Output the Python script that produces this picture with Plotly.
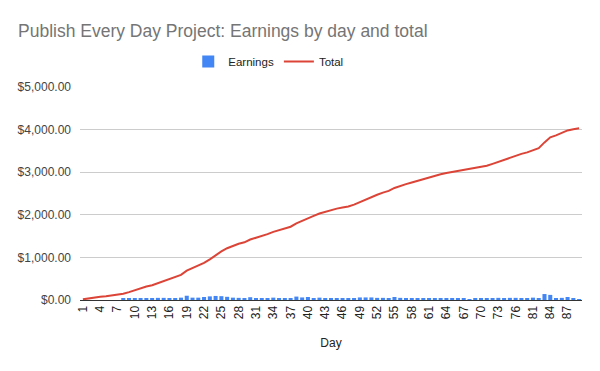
import plotly.graph_objects as go

days = [str(d) for d in list(range(1, 79)) + list(range(81, 90))]

earnings = [0, 0, 0, 0, 0, 0, 0, 27, 40, 45,
            40, 45, 30, 50, 50, 45, 45, 55, 100, 55,
            55, 70, 85, 95, 90, 75, 55, 50, 35, 65,
            40, 40, 45, 55, 40, 40, 40, 80, 60, 70,
            45, 55, 40, 45, 30, 25, 25, 45, 60, 60,
            60, 50, 50, 40, 70, 50, 40, 40, 40, 30,
            45, 35, 40, 30, 25, 25, 25, 20, 25, 25,
            25, 45, 50, 45, 50, 50, 40, 35, 55, 40,
            140, 120, 40, 50, 70, 30, 20]

total = [15, 40, 60, 75, 90, 105, 118, 145, 185, 230,
         270, 315, 345, 395, 445, 490, 535, 590, 690, 745,
         800, 870, 955, 1050, 1140, 1215, 1270, 1320, 1355, 1420,
         1460, 1500, 1545, 1600, 1640, 1680, 1720, 1800, 1860, 1930,
         1975, 2030, 2070, 2115, 2145, 2170, 2195, 2240, 2300, 2360,
         2420, 2470, 2520, 2560, 2630, 2680, 2720, 2760, 2800, 2830,
         2875, 2910, 2950, 2980, 3005, 3030, 3055, 3075, 3100, 3125,
         3150, 3195, 3245, 3290, 3340, 3390, 3430, 3465, 3520, 3565,
         3700, 3820, 3865, 3915, 3980, 4010, 4030]

y_ticks = [0, 1000, 2000, 3000, 4000, 5000]

FONT = "Liberation Sans, Arial, sans-serif"

fig = go.Figure()
fig.add_trace(go.Bar(x=days, y=earnings, name="Earnings",
                     marker=dict(color="#4285F4", line=dict(width=0))))
fig.add_trace(go.Scatter(x=days, y=total, name="Total", mode="lines",
                         line=dict(color="#DB4437", width=2)))

fig.update_layout(
    width=600, height=371,
    margin=dict(l=80, r=18, t=87, b=71),
    paper_bgcolor="white", plot_bgcolor="white",
    font=dict(family=FONT, size=12, color="#222222"),
    title=dict(text="Publish Every Day Project: Earnings by day and total",
               x=18/600, xref="container", xanchor="left",
               y=1-31/371, yref="container", yanchor="middle",
               font=dict(family=FONT, size=17.5, color="#757575")),
    legend=dict(orientation="h", x=0.375, xanchor="center", y=1.12, yanchor="middle",
                font=dict(family=FONT, size=11.5, color="#222222"),
                itemwidth=30, tracegroupgap=0),
    bargap=0.3,
    showlegend=True,
)
fig.update_xaxes(type="category", tickvals=days[::3], ticktext=days[::3],
                 tickangle=-90, showgrid=False, showline=True,
                 linecolor="#333333", linewidth=1,
                 tickfont=dict(family=FONT, size=12, color="#222222"),
                 title=dict(text="Day", font=dict(family=FONT, size=12, color="#222222"),
                            standoff=20))
fig.update_yaxes(range=[0, 5000], tickvals=y_ticks, tickformat="$,.2f",
                 showgrid=True, gridcolor="#CCCCCC", gridwidth=1,
                 zeroline=False, showline=False,
                 tickfont=dict(family=FONT, size=12, color="#444444"),
                 ticks="", ticklabelstandoff=8)

fig.write_html("out.html")
